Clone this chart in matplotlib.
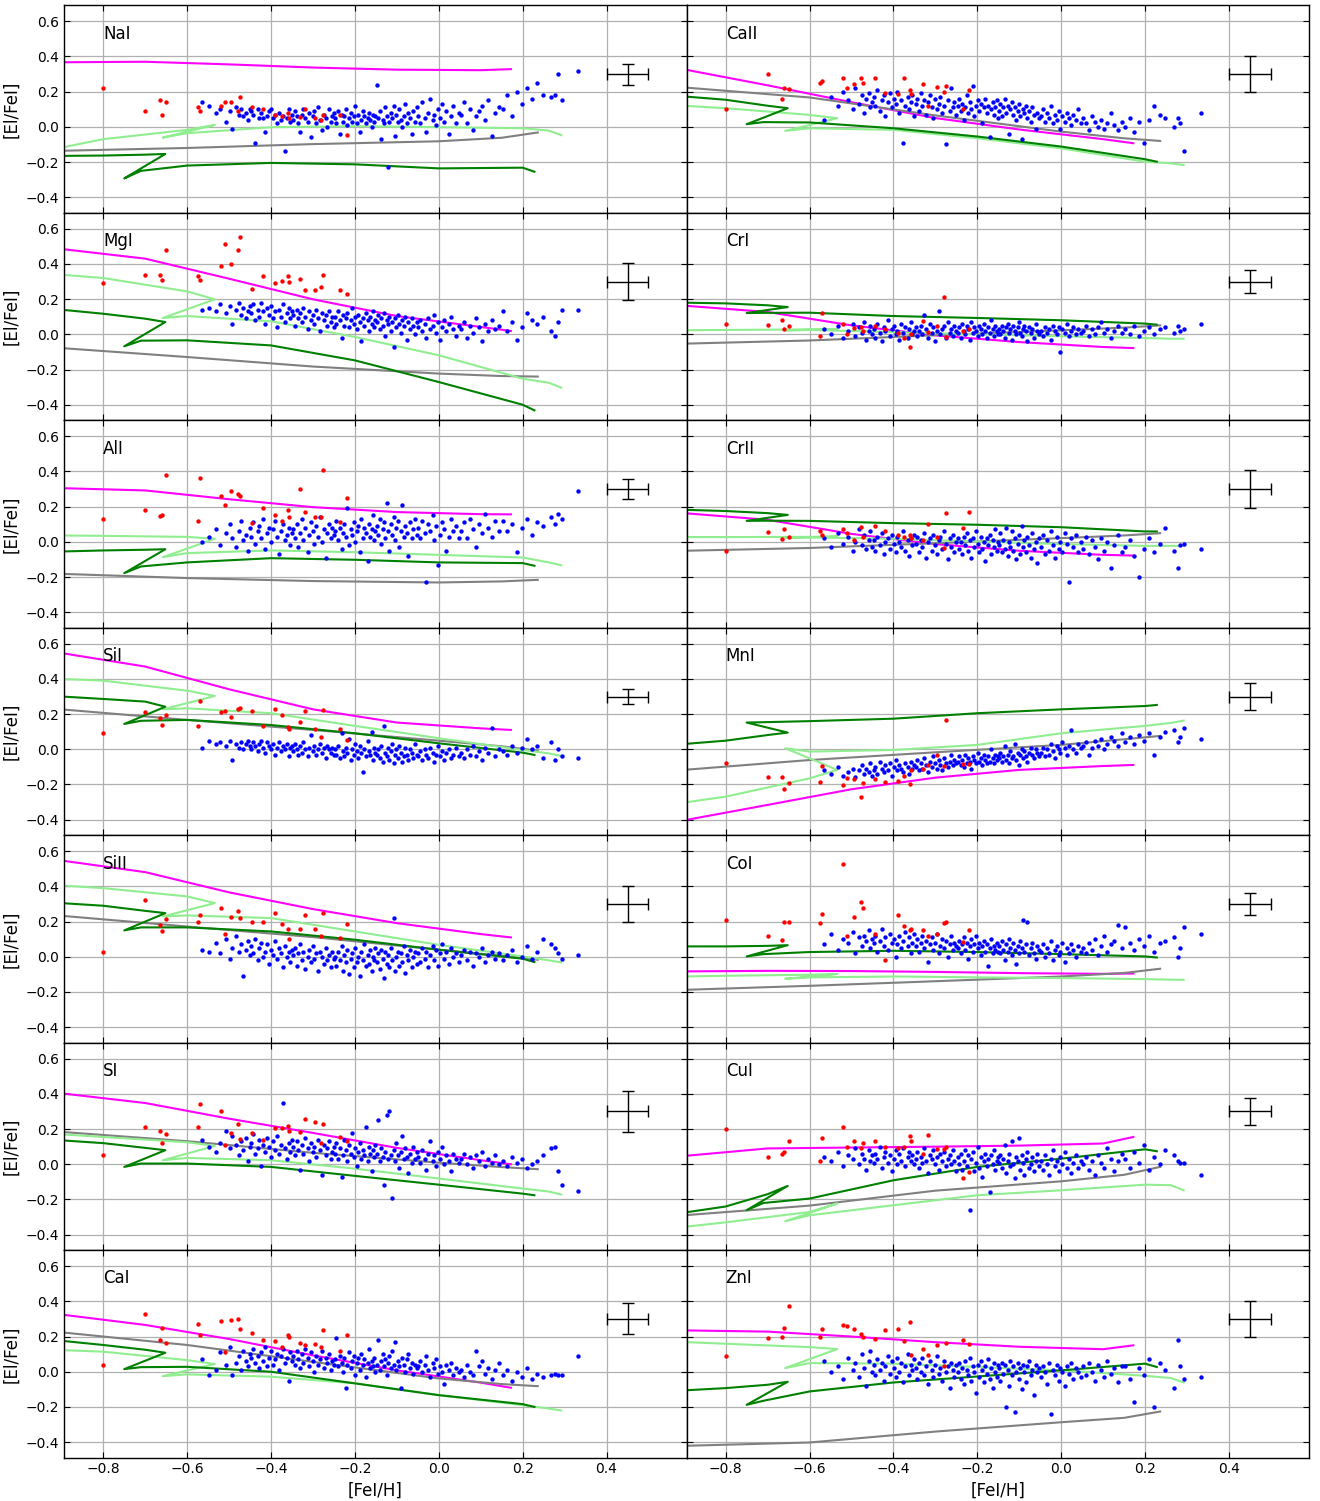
import numpy as np
import matplotlib
matplotlib.use('Agg')
import matplotlib.pyplot as plt

# ---------------------------------------------------------------
# Shared [Fe/H] of the stars (same stars in every panel)
# ---------------------------------------------------------------
BLUE_FEH = [
    -0.565, -0.548, -0.532, -0.521, -0.508, -0.497, -0.492, -0.483, -0.476, -0.471, -0.466, -0.459, -0.455, -0.451,
    -0.447, -0.443, -0.438, -0.432, -0.428, -0.423, -0.419, -0.414, -0.409, -0.404, -0.399, -0.395, -0.391, -0.386,
    -0.381, -0.377, -0.372, -0.366, -0.362, -0.358, -0.355, -0.351,
    -0.347, -0.343, -0.338, -0.335, -0.331, -0.326, -0.323, -0.318, -0.313, -0.309, -0.305, -0.301, -0.297, -0.292,
    -0.288, -0.283, -0.279, -0.274, -0.270, -0.266, -0.262, -0.258, -0.255, -0.251,
    -0.247, -0.244, -0.240, -0.236, -0.232, -0.229, -0.225, -0.221, -0.218, -0.214, -0.210, -0.207, -0.203, -0.199,
    -0.196, -0.192, -0.188, -0.185, -0.181, -0.178, -0.174, -0.170, -0.167, -0.163, -0.160, -0.157, -0.154, -0.151,
    -0.148, -0.145, -0.141, -0.138, -0.134, -0.131, -0.128, -0.124, -0.121, -0.118, -0.114, -0.111, -0.108, -0.104,
    -0.101, -0.098, -0.094, -0.091, -0.088, -0.084, -0.081, -0.077, -0.073, -0.069, -0.065, -0.061, -0.057, -0.053,
    -0.049, -0.044, -0.039, -0.034, -0.030, -0.025, -0.020, -0.015, -0.011, -0.006, -0.002, 0.003, 0.008, 0.013,
    0.018, 0.024, 0.029, 0.035, 0.041, 0.047,
    0.053, 0.060, 0.067, 0.074, 0.081, 0.088, 0.095, 0.103, 0.110, 0.118, 0.126, 0.135, 0.144,
    0.153, 0.163, 0.174, 0.186, 0.198, 0.210, 0.222, 0.235,
    0.248, 0.268, 0.278, 0.284, 0.294, 0.333,
]
RED_FEH = [-0.80, -0.70, -0.665, -0.66, -0.65, -0.575, -0.57, -0.52, -0.51, -0.495, -0.478, -0.473, -0.445,
           -0.42, -0.39, -0.375, -0.36, -0.357, -0.33, -0.318, -0.295, -0.28, -0.275, -0.235, -0.22]

# x knots of the model curves
MAG_X = [-0.9, -0.7, -0.5, -0.3, -0.1, 0.1, 0.172]
GRAY_X = [-0.9, -0.6, -0.3, 0.0, 0.15, 0.236]
DG_X = [-0.9, -0.8, -0.7, -0.652, -0.75, -0.71, -0.6, -0.4, -0.2, 0.0, 0.2, 0.228]
LG_X = [-0.9, -0.8, -0.6, -0.534, -0.658, -0.6, -0.4, -0.2, 0.0, 0.2, 0.262, 0.292]

LEFT_NAMES = ['NaI', 'MgI', 'AlI', 'SiI', 'SiII', 'SI', 'CaI']
RIGHT_NAMES = ['CaII', 'CrI', 'CrII', 'MnI', 'CoI', 'CuI', 'ZnI']

# ---------------- NaI ----------------
nai_blue = [0.14, 0.12, 0.08, 0.10, 0.03, 0.09, -0.01, 0.11, 0.07, 0.10, 0.06, 0.08, 0.04, 0.10,
            0.09, 0.07, -0.09, 0.10, 0.05, 0.08, 0.05, -0.03, 0.06, 0.09, 0.10, 0.05, 0.07, 0.02, 0.08, 0.04, 0.06, -0.14, 0.05, 0.10, 0.03, 0.07,
            0.04, 0.09, 0.06, 0.02, -0.03, 0.07, 0.10, 0.05, 0.03, 0.08, -0.06, 0.06, 0.09, 0.02, 0.11, 0.04, -0.02, 0.07, 0.05, 0.00, 0.10, 0.03, 0.06, 0.08,
            0.05, 0.02, 0.09, -0.04, 0.07, 0.03, 0.06, 0.10, 0.01, 0.05, 0.08, 0.03, 0.06, 0.12, 0.02, 0.07, -0.03, 0.04, 0.09, 0.06, 0.02, 0.05, 0.08, 0.04, 0.00, 0.07, 0.03, 0.06,
            0.24, 0.05, 0.09, -0.07, 0.04, 0.02, 0.11, 0.06, -0.23, 0.03, 0.08, 0.05, 0.12, -0.05, 0.07, 0.03, 0.10, 0.04, 0.00, 0.06, 0.13, 0.02, 0.08, 0.05, -0.04, 0.09, 0.03, 0.11,
            0.06, 0.02, 0.14, 0.05, -0.03, 0.08, 0.16, 0.04, 0.07, 0.01, 0.10, 0.05, 0.13, 0.03, 0.09, -0.04, 0.06, 0.12, 0.02, 0.08,
            0.07, 0.14, 0.02, 0.10, -0.02, 0.06, 0.09, 0.12, 0.04, 0.15, -0.05, 0.08, 0.11,
            0.10, 0.18, 0.06, 0.20, 0.13, 0.22, 0.16, 0.25,
            0.18, 0.17, 0.18, 0.30, 0.15, 0.32]
nai_red = [0.22, 0.09, 0.15, 0.07, 0.14, 0.11, 0.09, 0.12, 0.14, 0.14, 0.09, 0.17, 0.11, 0.10, 0.07, 0.06, 0.08,
           0.05, 0.055, 0.10, 0.05, 0.04, 0.07, 0.07, -0.045]
nai_mag = [0.367, 0.370, 0.355, 0.337, 0.325, 0.322, 0.328]
nai_gray = [-0.136, -0.120, -0.098, -0.082, -0.062, -0.032]
nai_dg = [-0.165, -0.163, -0.158, -0.154, -0.293, -0.250, -0.220, -0.205, -0.213, -0.236, -0.232, -0.255]
nai_lg = [-0.118, -0.070, -0.017, 0.011, -0.061, -0.036, -0.002, 0.004, -0.002, -0.008, -0.021, -0.047]

# ---------------- CaII ----------------
caii_blue = [0.04, 0.17, 0.12, 0.20, 0.15, 0.10, 0.22, 0.13, 0.18, 0.08, 0.16, 0.19, 0.11, 0.14,
             0.17, 0.12, 0.21, 0.09, 0.15, 0.18, 0.06, 0.14, 0.19, 0.11, 0.16, 0.13, 0.20, 0.08, 0.15, -0.09, 0.12, 0.17, 0.10, 0.14, 0.18, 0.06,
             0.13, 0.16, 0.09, 0.19, 0.12, 0.15, 0.07, 0.14, 0.18, 0.11, 0.05, 0.16, 0.10, 0.13, 0.17, 0.08, 0.12, -0.10, 0.15, 0.09, 0.22, 0.11, 0.14, 0.07,
             0.12, 0.16, 0.09, 0.13, 0.04, 0.11, 0.18, 0.08, 0.14, 0.10, 0.23, 0.06, 0.12, 0.15, 0.09, 0.13, 0.02, 0.11, 0.16, 0.08, 0.12, -0.06, 0.10, 0.14, 0.07, 0.11, 0.15, 0.05,
             0.09, 0.13, 0.06, 0.11, 0.16, 0.08, 0.12, -0.04, 0.10, 0.14, 0.07, 0.11, 0.04, 0.09, 0.13, 0.06, -0.07, 0.10, 0.08, 0.12, 0.05, 0.09, 0.03, 0.11, 0.07, -0.01, 0.08, 0.05,
             0.06, 0.10, 0.03, 0.08, 0.05, 0.12, 0.02, 0.07, 0.04, 0.09, -0.01, 0.06, 0.03, 0.08, 0.05, 0.01, 0.07, 0.04, 0.10, 0.02,
             0.05, 0.02, -0.02, 0.06, 0.03, 0.00, 0.04, -0.01, 0.02, 0.08, 0.01, -0.02, 0.03,
             0.00, 0.05, -0.03, 0.03, -0.09, 0.04, 0.12, 0.07,
             0.05, 0.00, 0.05, 0.02, -0.14, 0.08]
caii_red = [0.10, 0.30, 0.16, 0.22, 0.215, 0.25, 0.26, 0.28, 0.22, 0.245, 0.275, 0.25, 0.28, 0.19, 0.185, 0.28, 0.21,
            0.185, 0.245, 0.12, 0.225, 0.20, 0.23, 0.10, 0.21]
caii_mag = [0.327, 0.236, 0.140, 0.050, -0.015, -0.070, -0.093]
caii_gray = [0.224, 0.167, 0.065, -0.027, -0.065, -0.080]
caii_dg = [0.173, 0.154, 0.120, 0.106, 0.015, 0.027, 0.025, -0.008, -0.055, -0.112, -0.184, -0.198]
caii_lg = [0.120, 0.106, 0.068, 0.049, -0.023, -0.008, -0.017, -0.065, -0.122, -0.198, -0.207, -0.217]

# ---------------- MgI ----------------
mgi_blue = [0.14, 0.15, 0.13, 0.17, 0.12, 0.16, 0.06, 0.14, 0.18, 0.11, 0.15, 0.09, 0.13, 0.16,
            0.12, 0.17, 0.08, 0.14, 0.10, 0.18, 0.13, 0.06, 0.15, 0.11, 0.16, 0.09, 0.13, 0.04, 0.14, 0.10, 0.17, 0.07, 0.12, 0.15, 0.09, 0.13,
            0.11, 0.05, 0.14, 0.09, 0.12, 0.07, 0.15, 0.10, 0.03, 0.13, 0.08, 0.11, 0.06, 0.14, 0.09, 0.02, 0.12, 0.08, 0.11, 0.05, 0.13, 0.07, 0.10, 0.04,
            0.10, 0.06, 0.13, 0.08, -0.02, 0.11, 0.05, 0.09, 0.12, 0.04, 0.08, 0.15, 0.06, 0.10, 0.03, 0.11, 0.07, -0.04, 0.09, 0.05, 0.12, 0.08, 0.02, 0.10, 0.06, 0.13, 0.04, 0.08,
            0.07, 0.11, 0.03, 0.09, 0.05, 0.12, -0.01, 0.08, 0.06, 0.10, 0.02, 0.07, -0.07, 0.09, 0.04, 0.11, 0.06, 0.01, 0.08, 0.05, 0.10, -0.03, 0.07, 0.03, 0.09, 0.05, 0.00, 0.07,
            0.04, 0.08, 0.02, 0.06, -0.02, 0.09, 0.03, 0.05, 0.11, 0.01, 0.07, -0.03, 0.04, 0.08, 0.02, 0.06, 0.10, 0.03, -0.01, 0.05,
            0.03, 0.07, -0.02, 0.05, 0.01, 0.09, 0.04, -0.04, 0.06, 0.02, 0.08, 0.03, 0.05,
            0.13, 0.02, 0.07, -0.03, 0.04, 0.12, 0.08, 0.06,
            0.10, 0.02, -0.01, 0.07, 0.14, 0.14]
mgi_red = [0.29, 0.34, 0.335, 0.31, 0.48, 0.33, 0.31, 0.39, 0.515, 0.40, 0.48, 0.555, 0.26, 0.33, 0.29, 0.305, 0.33,
           0.30, 0.315, 0.25, 0.25, 0.27, 0.34, 0.25, 0.23]
mgi_mag = [0.485, 0.430, 0.316, 0.199, 0.104, 0.042, 0.019]
mgi_gray = [-0.078, -0.129, -0.183, -0.223, -0.237, -0.240]
mgi_dg = [0.140, 0.117, 0.089, 0.070, -0.068, -0.036, -0.034, -0.063, -0.148, -0.271, -0.400, -0.432]
mgi_lg = [0.339, 0.320, 0.244, 0.199, 0.093, 0.104, 0.074, -0.015, -0.119, -0.252, -0.275, -0.303]

# ---------------- CrI ----------------
cri_blue = [0.03, 0.00, 0.05, -0.02, 0.02, 0.06, -0.01, 0.04, 0.01, 0.07, -0.03, 0.02, 0.05, 0.00,
            0.03, -0.02, 0.06, 0.01, -0.04, 0.04, 0.02, 0.08, -0.01, 0.03, 0.05, 0.00, 0.02, -0.03, 0.06, 0.01, 0.04, -0.02, 0.03, 0.07, 0.00, 0.02,
            0.04, -0.01, 0.02, 0.05, 0.00, 0.11, 0.03, -0.02, 0.06, 0.01, 0.04, -0.04, 0.02, 0.13, 0.00, 0.03, 0.05, -0.02, 0.07, 0.01, 0.03, -0.01, 0.05, 0.02,
            0.01, 0.04, -0.02, 0.06, 0.02, 0.00, 0.05, 0.03, -0.03, 0.07, 0.01, 0.04, 0.02, -0.01, 0.05, 0.03, 0.00, 0.06, 0.02, -0.02, 0.04, 0.01, 0.08, 0.03, -0.01, 0.05, 0.02, 0.00,
            0.03, 0.00, 0.05, 0.02, -0.02, 0.04, 0.06, 0.01, 0.03, -0.03, 0.05, 0.02, 0.00, 0.04, 0.07, 0.01, -0.01, 0.03, 0.05, 0.02, -0.04, 0.04, 0.01, 0.03, -0.02, 0.06, 0.02, 0.00,
            0.02, -0.01, 0.04, 0.01, 0.03, -0.03, 0.05, 0.02, 0.00, 0.04, -0.10, 0.03, 0.01, 0.06, -0.01, 0.02, 0.04, 0.00, 0.03, 0.01,
            0.02, 0.05, -0.01, 0.03, 0.00, 0.04, 0.07, 0.01, 0.03, -0.02, 0.02, 0.05, 0.01,
            0.03, 0.00, 0.05, -0.01, 0.02, 0.04, 0.00, 0.03,
            0.04, 0.01, 0.05, 0.02, 0.03, 0.06]
cri_red = [0.06, 0.055, 0.08, 0.03, 0.05, -0.01, 0.12, 0.06, 0.00, 0.035, 0.04, 0.02, 0.05, 0.03, 0.01, -0.02, -0.07,
           0.00, 0.075, 0.015, 0.045, 0.21, -0.015, 0.02, 0.03]
cri_mag = [0.163, 0.127, 0.051, -0.006, -0.044, -0.072, -0.078]
cri_gray = [-0.053, -0.035, -0.005, 0.023, 0.038, 0.051]
cri_dg = [0.180, 0.176, 0.165, 0.155, 0.121, 0.122, 0.123, 0.104, 0.093, 0.080, 0.061, 0.055]
cri_lg = [0.023, 0.025, 0.028, 0.028, 0.023, 0.025, 0.013, 0.000, -0.011, -0.021, -0.025, -0.025]

# ---------------- AlI ----------------
ali_blue = [0.00, 0.03, 0.07, -0.02, 0.05, 0.10, 0.02, -0.03, 0.06, 0.12, 0.01, 0.04, -0.05, 0.08,
            0.03, 0.11, -0.01, 0.06, 0.09, 0.02, 0.13, -0.04, 0.05, 0.08, 0.00, 0.07, 0.12, 0.03, -0.07, 0.06, 0.10, 0.01, 0.04, 0.08, -0.02, 0.05,
            0.07, 0.02, 0.10, -0.03, 0.05, 0.13, 0.01, 0.08, -0.06, 0.04, 0.11, 0.06, -0.01, 0.09, 0.03, 0.14, 0.00, 0.07, -0.09, 0.05, 0.10, 0.02, 0.08, 0.04,
            0.06, 0.12, 0.01, 0.08, -0.04, 0.05, 0.10, 0.03, 0.19, -0.02, 0.07, 0.04, 0.11, 0.00, 0.06, 0.09, -0.06, 0.13, 0.02, 0.08, 0.05, -0.11, 0.10, 0.03, 0.07, 0.15, 0.01, 0.06,
            0.09, 0.04, 0.13, -0.01, 0.07, 0.11, 0.02, 0.22, 0.06, -0.05, 0.10, 0.04, 0.14, 0.01, 0.08, 0.12, -0.03, 0.06, 0.21, 0.03, 0.09, 0.05, -0.08, 0.11, 0.02, 0.07, 0.13, 0.04,
            0.08, 0.02, 0.12, 0.05, -0.23, 0.10, 0.06, 0.15, 0.01, 0.09, -0.13, 0.04, 0.11, 0.07, -0.05, 0.03, 0.13, 0.06, 0.09, 0.02,
            0.06, 0.11, 0.02, 0.13, 0.07, -0.03, 0.10, 0.05, 0.16, 0.08, 0.03, 0.12, 0.06,
            0.12, 0.06, 0.10, -0.06, 0.08, 0.13, 0.04, 0.11,
            0.09, 0.14, 0.10, 0.16, 0.13, 0.29]
ali_red = [0.13, 0.18, 0.145, 0.155, 0.38, 0.12, 0.36, 0.26, 0.21, 0.29, 0.27, 0.26, 0.105, 0.19, 0.15, 0.12, 0.18,
           0.14, 0.30, 0.17, 0.14, 0.14, 0.41, 0.115, 0.25]
ali_mag = [0.305, 0.292, 0.242, 0.197, 0.169, 0.157, 0.156]
ali_gray = [-0.182, -0.206, -0.223, -0.231, -0.225, -0.216]
ali_dg = [-0.055, -0.049, -0.045, -0.042, -0.178, -0.140, -0.117, -0.093, -0.102, -0.117, -0.121, -0.136]
ali_lg = [0.036, 0.034, 0.028, 0.017, -0.087, -0.064, -0.049, -0.059, -0.074, -0.089, -0.117, -0.133]

# ---------------- CrII ----------------
crii_blue = [0.02, -0.03, 0.05, -0.01, 0.03, -0.05, 0.00, 0.07, -0.02, 0.04, -0.04, 0.01, 0.06, -0.03,
             0.01, -0.05, 0.03, -0.02, 0.05, -0.07, 0.00, 0.02, -0.04, 0.04, -0.01, -0.06, 0.03, 0.00, -0.03, 0.06, -0.05, 0.01, -0.08, 0.02, -0.02, 0.04,
             -0.01, 0.03, -0.06, 0.01, -0.03, 0.05, -0.09, 0.00, 0.02, -0.05, 0.04, -0.02, -0.07, 0.01, 0.03, -0.04, 0.06, -0.01, -0.10, 0.02, -0.03, 0.04, -0.06, 0.00,
             0.02, -0.04, 0.00, -0.07, 0.03, -0.02, 0.05, -0.05, 0.01, -0.09, 0.02, -0.03, 0.06, -0.01, -0.06, 0.03, -0.04, 0.00, -0.11, 0.02, -0.02, 0.04, -0.07, 0.01, -0.03, 0.07, -0.05, 0.00,
             -0.02, 0.05, -0.06, 0.01, -0.04, 0.08, -0.08, 0.00, -0.03, 0.06, -0.05, 0.02, -0.10, -0.01, 0.04, -0.07, 0.09, -0.03, 0.01, -0.06, 0.03, -0.02, -0.09, 0.05, -0.04, 0.00, -0.12, 0.02,
             -0.03, 0.04, -0.07, 0.01, -0.05, 0.06, -0.02, -0.09, 0.03, -0.04, 0.00, -0.06, 0.05, -0.01, -0.23, 0.02, -0.03, 0.04, -0.06, 0.00,
             -0.04, 0.03, -0.07, 0.01, -0.03, -0.10, 0.02, -0.05, 0.00, -0.15, -0.02, 0.04, -0.06,
             -0.03, 0.01, -0.08, -0.20, -0.04, 0.02, -0.06, -0.01,
             0.08, -0.05, -0.15, -0.02, -0.01, -0.04]
crii_red = [-0.05, 0.055, 0.015, 0.07, 0.03, 0.06, 0.04, 0.07, 0.05, 0.01, 0.085, 0.03, 0.09, 0.06, 0.04, 0.03, 0.04,
            0.02, 0.01, 0.10, 0.03, -0.035, 0.165, 0.08, 0.17]
crii_mag = [0.163, 0.125, 0.045, -0.013, -0.051, -0.074, -0.078]
crii_gray = [-0.051, -0.035, -0.008, 0.021, 0.036, 0.049]
crii_dg = [0.182, 0.175, 0.163, 0.153, 0.119, 0.120, 0.119, 0.106, 0.097, 0.083, 0.059, 0.059]
crii_lg = [0.027, 0.027, 0.028, 0.030, 0.023, 0.025, 0.017, 0.002, -0.013, -0.023, -0.023, -0.023]

# ---------------- SiI ----------------
sii_blue = [0.01, 0.05, 0.03, 0.04, 0.02, 0.05, -0.06, 0.03, 0.01, 0.04, 0.00, 0.03, 0.05, 0.02,
            0.00, 0.04, 0.02, -0.01, 0.03, 0.05, 0.01, -0.02, 0.04, 0.02, 0.00, 0.03, -0.03, 0.01, 0.04, -0.01, 0.02, 0.00, 0.03, -0.04, 0.01, 0.02,
            -0.01, 0.03, 0.00, -0.03, 0.02, -0.02, 0.04, 0.00, -0.04, 0.01, 0.08, -0.01, 0.02, -0.03, 0.00, 0.03, -0.02, 0.01, -0.05, 0.02, 0.00, -0.02, 0.01, -0.03,
            0.00, -0.03, 0.02, -0.05, 0.09, -0.01, -0.04, 0.01, -0.02, 0.06, -0.06, 0.00, -0.03, 0.03, -0.01, -0.05, 0.02, -0.02, -0.13, 0.00, -0.04, 0.05, -0.01, -0.03, 0.10, -0.06, 0.01, -0.02,
            -0.03, 0.00, -0.05, 0.02, -0.07, 0.13, -0.02, -0.04, 0.01, -0.06, -0.01, 0.03, -0.08, -0.03, 0.00, -0.05, 0.02, -0.02, -0.07, -0.04, 0.01, -0.03, -0.06, 0.00, -0.02, -0.05, 0.03, -0.03,
            -0.04, -0.01, -0.06, 0.00, -0.03, -0.05, 0.01, -0.02, -0.07, -0.03, 0.02, -0.04, -0.01, -0.06, -0.02, 0.00, -0.05, -0.03, 0.01, -0.04,
            -0.02, -0.05, 0.00, -0.03, 0.02, -0.04, -0.01, -0.06, 0.01, -0.02, 0.12, -0.04, 0.00,
            -0.01, -0.03, 0.02, -0.02, 0.01, 0.06, 0.00, 0.02,
            -0.05, 0.04, -0.06, 0.00, -0.04, -0.05]
sii_red = [0.09, 0.21, 0.18, 0.14, 0.195, 0.13, 0.275, 0.21, 0.22, 0.185, 0.23, 0.235, 0.22, 0.135, 0.23, 0.195, 0.125,
           0.115, 0.155, 0.22, 0.115, 0.07, 0.225, 0.115, 0.055]
sii_mag = [0.547, 0.470, 0.341, 0.227, 0.152, 0.119, 0.110]
sii_gray = [0.227, 0.167, 0.110, 0.049, 0.017, -0.008]
sii_dg = [0.300, 0.286, 0.271, 0.242, 0.144, 0.162, 0.167, 0.138, 0.091, 0.034, -0.019, -0.032]
sii_lg = [0.400, 0.390, 0.333, 0.303, 0.227, 0.233, 0.205, 0.133, 0.063, -0.004, -0.023, -0.038]

# ---------------- MnI ----------------
mni_blue = [-0.12, -0.14, -0.10, -0.15, -0.13, -0.11, -0.16, -0.12, -0.09, -0.14, -0.11, -0.13, -0.08, -0.15,
            -0.12, -0.10, -0.14, -0.07, -0.11, -0.13, -0.09, -0.12, -0.08, -0.15, -0.10, -0.06, -0.12, -0.09, -0.11, -0.13, -0.08, -0.10, -0.14, -0.07, -0.11, -0.09,
            -0.10, -0.06, -0.12, -0.08, -0.11, -0.05, -0.09, -0.13, -0.07, -0.10, -0.04, -0.08, -0.11, -0.06, -0.09, -0.12, -0.05, -0.08, -0.10, -0.07, -0.03, -0.09, -0.06, -0.08,
            -0.07, -0.04, -0.09, -0.06, -0.10, -0.03, -0.08, -0.05, -0.07, -0.11, -0.04, -0.06, -0.08, -0.02, -0.07, -0.05, -0.09, -0.03, -0.06, -0.08, -0.04, -0.07, 0.00, -0.05, -0.08, -0.03, -0.06, -0.04,
            -0.05, -0.02, -0.07, -0.04, 0.02, -0.06, -0.03, -0.08, -0.01, -0.05, -0.04, 0.03, -0.06, -0.02, -0.09, -0.03, 0.00, -0.05, -0.01, -0.04, -0.07, -0.02, 0.01, -0.03, -0.05, 0.00, -0.02, -0.04,
            -0.02, 0.01, -0.04, 0.00, -0.03, 0.03, -0.01, -0.05, 0.02, 0.00, -0.02, 0.04, 0.01, -0.03, 0.02, 0.11, 0.00, -0.02, 0.03, 0.01,
            0.02, 0.04, -0.03, 0.01, 0.05, 0.02, 0.06, 0.00, 0.03, 0.07, 0.05, 0.02, 0.09,
            0.04, 0.07, 0.03, 0.08, 0.05, 0.09, -0.03, 0.07,
            0.10, 0.11, 0.04, 0.07, 0.12, 0.06]
mni_red = [-0.08, -0.155, -0.155, -0.225, -0.19, -0.185, -0.095, -0.205, -0.165, -0.17, -0.27, -0.19, -0.17, -0.185,
           -0.18, -0.15, -0.195, -0.115, -0.11, -0.09, -0.035, -0.095, 0.165, -0.085, -0.085]
mni_mag = [-0.404, -0.316, -0.227, -0.161, -0.117, -0.095, -0.089]
mni_gray = [-0.117, -0.061, -0.017, 0.025, 0.057, 0.076]
mni_dg = [0.030, 0.049, 0.081, 0.095, 0.152, 0.154, 0.160, 0.174, 0.205, 0.227, 0.246, 0.252]
mni_lg = [-0.303, -0.269, -0.165, -0.117, 0.006, -0.013, -0.004, 0.025, 0.091, 0.133, 0.150, 0.163]

# ---------------- SiII ----------------
siii_blue = [0.04, 0.03, 0.08, 0.02, 0.10, -0.01, 0.05, 0.12, 0.03, 0.07, -0.11, 0.04, 0.09, 0.01,
             0.06, 0.02, 0.10, -0.02, 0.05, 0.08, 0.00, 0.03, 0.07, -0.04, 0.04, 0.01, 0.09, -0.01, 0.05, 0.02, -0.06, 0.06, 0.00, 0.03, -0.03, 0.04,
             0.01, 0.05, -0.05, 0.02, 0.07, -0.02, 0.03, -0.07, 0.00, 0.04, -0.03, 0.06, -0.01, 0.02, -0.08, 0.03, 0.00, -0.04, 0.05, -0.02, 0.01, -0.06, 0.03, -0.01,
             0.00, -0.05, 0.03, -0.02, 0.06, -0.08, 0.01, -0.03, 0.04, -0.10, -0.01, 0.02, -0.06, 0.05, -0.03, 0.00, -0.11, 0.03, -0.02, 0.07, -0.05, 0.01, -0.04, 0.04, -0.08, 0.00, -0.02, 0.05,
             -0.03, 0.02, -0.07, 0.04, -0.01, -0.12, 0.03, -0.04, 0.01, -0.06, 0.05, -0.02, 0.22, -0.08, 0.00, 0.03, -0.05, 0.02, -0.03, 0.06, -0.09, 0.01, -0.02, 0.04, -0.06, 0.00, 0.03, -0.04,
             0.02, -0.03, 0.05, -0.01, 0.03, -0.06, 0.01, 0.06, -0.02, 0.04, -0.05, 0.02, 0.07, -0.01, 0.03, -0.04, 0.05, 0.00, 0.02, -0.03,
             0.01, 0.04, -0.02, 0.03, -0.05, 0.02, 0.00, 0.05, -0.03, 0.01, 0.03, -0.01, 0.02,
             -0.02, 0.01, 0.04, -0.03, 0.00, 0.06, -0.01, 0.03,
             0.10, 0.07, 0.05, 0.02, -0.01, 0.01]
siii_red = [0.025, 0.325, 0.18, 0.145, 0.215, 0.20, 0.24, 0.275, 0.13, 0.225, 0.26, 0.22, 0.20, 0.20, 0.25, 0.185, 0.16,
            0.10, 0.16, 0.235, 0.16, 0.12, 0.25, 0.105, 0.185]
siii_mag = [0.547, 0.481, 0.366, 0.271, 0.191, 0.129, 0.110]
siii_gray = [0.233, 0.172, 0.112, 0.040, 0.006, -0.017]
siii_dg = [0.305, 0.290, 0.261, 0.248, 0.150, 0.167, 0.167, 0.144, 0.097, 0.040, -0.011, -0.030]
siii_lg = [0.405, 0.390, 0.343, 0.305, 0.229, 0.235, 0.220, 0.144, 0.068, 0.002, -0.020, -0.032]

# ---------------- CoI ----------------
coi_blue = [0.07, 0.13, 0.04, 0.10, 0.08, 0.14, 0.02, 0.11, 0.06, 0.12, 0.09, 0.15, 0.05, 0.10,
            0.08, 0.12, 0.03, 0.09, 0.16, 0.06, 0.11, 0.04, 0.13, 0.08, 0.10, 0.00, 0.07, 0.12, 0.05, 0.09, 0.14, 0.06, 0.11, 0.02, 0.08, 0.13,
            0.06, 0.10, 0.03, 0.08, 0.12, 0.05, 0.09, -0.03, 0.07, 0.11, 0.04, 0.08, 0.13, 0.02, 0.06, 0.10, 0.05, 0.09, 0.00, 0.07, 0.12, 0.04, 0.08, 0.06,
            0.05, 0.09, 0.02, 0.07, 0.11, 0.04, 0.08, -0.01, 0.06, 0.10, 0.03, 0.07, 0.12, 0.05, 0.08, 0.01, 0.06, 0.09, 0.03, 0.07, -0.05, 0.05, 0.10, 0.02, 0.06, 0.04, 0.08, 0.03,
            0.06, 0.02, 0.09, 0.04, -0.02, 0.07, 0.03, 0.10, 0.05, 0.01, 0.08, 0.04, -0.04, 0.06, 0.02, 0.09, 0.05, 0.21, 0.03, 0.07, 0.20, 0.01, 0.05, 0.08, 0.02, -0.01, 0.06, 0.04,
            0.03, 0.07, 0.00, 0.05, 0.02, 0.09, -0.02, 0.04, 0.06, 0.01, 0.03, 0.08, -0.03, 0.05, 0.02, 0.07, 0.04, 0.00, 0.06, 0.03,
            0.05, 0.02, 0.08, 0.04, 0.10, 0.01, 0.06, 0.12, 0.03, 0.07, 0.09, 0.18, 0.05,
            0.17, 0.08, 0.04, 0.10, 0.06, 0.12, 0.03, 0.08,
            0.09, 0.11, 0.00, 0.05, 0.17, 0.13]
coi_red = [0.21, 0.12, 0.095, 0.20, 0.20, 0.19, 0.245, 0.53, 0.12, 0.225, 0.31, 0.275, 0.13, -0.02, 0.24, 0.175, 0.15,
           0.16, 0.155, 0.12, 0.13, 0.19, 0.20, 0.085, 0.15]
coi_mag = [-0.083, -0.080, -0.081, -0.086, -0.093, -0.097, -0.095]
coi_gray = [-0.188, -0.165, -0.139, -0.112, -0.092, -0.068]
coi_dg = [0.059, 0.059, 0.062, 0.066, 0.002, 0.015, 0.027, 0.034, 0.027, 0.015, 0.002, -0.004]
coi_lg = [-0.112, -0.108, -0.102, -0.098, -0.125, -0.117, -0.112, -0.117, -0.121, -0.127, -0.130, -0.131]

# ---------------- SI ----------------
si_blue = [0.14, 0.10, 0.07, 0.12, 0.19, 0.09, 0.16, 0.11, 0.05, 0.13, 0.08, 0.15, 0.02, 0.10,
           0.12, 0.17, 0.06, 0.09, 0.14, -0.01, 0.11, 0.07, 0.15, 0.10, 0.04, 0.13, 0.08, 0.16, 0.06, 0.11, 0.35, 0.09, 0.03, 0.12, 0.07, 0.14,
           0.10, 0.05, 0.13, 0.08, -0.03, 0.11, 0.06, 0.15, 0.09, 0.02, 0.12, 0.07, 0.10, 0.04, 0.14, 0.08, -0.06, 0.11, 0.05, 0.09, 0.13, 0.03, 0.07, 0.10,
           0.06, 0.12, 0.03, 0.09, -0.07, 0.05, 0.14, 0.08, 0.02, 0.11, 0.06, 0.18, 0.04, 0.09, -0.01, 0.07, 0.12, 0.03, 0.08, 0.05, 0.21, 0.02, 0.10, 0.06, -0.04, 0.08, 0.04, 0.11,
           0.06, 0.25, 0.02, 0.09, 0.04, -0.12, 0.07, 0.28, 0.03, 0.30, 0.05, -0.19, 0.08, 0.02, 0.12, 0.05, -0.02, 0.07, 0.16, 0.03, 0.09, 0.04, -0.05, 0.06, 0.01, 0.10, 0.03, 0.07,
           0.04, 0.01, 0.08, 0.03, -0.03, 0.06, 0.13, 0.02, 0.05, -0.01, 0.07, 0.03, 0.10, 0.00, 0.05, 0.02, -0.04, 0.06, 0.03, 0.01,
           0.03, 0.06, 0.00, 0.04, -0.02, 0.05, 0.02, 0.07, -0.01, 0.03, 0.01, 0.05, 0.00,
           0.02, -0.01, 0.04, 0.01, 0.03, -0.02, 0.00, 0.02,
           0.05, 0.09, 0.10, -0.04, -0.12, -0.15]
si_red = [0.055, 0.21, 0.19, 0.12, 0.17, 0.21, 0.34, 0.30, 0.11, 0.18, 0.23, 0.145, 0.18, 0.14, 0.205, 0.205, 0.215,
          0.19, 0.185, 0.26, 0.24, 0.12, 0.23, 0.155, 0.135]
si_mag = [0.403, 0.348, 0.259, 0.178, 0.093, 0.023, 0.000]
si_gray = [0.184, 0.131, 0.065, 0.009, -0.016, -0.028]
si_dg = [0.136, 0.120, 0.093, 0.080, -0.015, 0.004, 0.004, -0.015, -0.066, -0.116, -0.167, -0.176]
si_lg = [0.170, 0.155, 0.125, 0.104, 0.023, 0.036, 0.023, -0.025, -0.081, -0.138, -0.155, -0.172]

# ---------------- CuI ----------------
cui_blue = [0.04, 0.02, 0.07, -0.01, 0.05, 0.03, 0.09, 0.00, 0.06, 0.03, -0.03, 0.08, 0.02, 0.05,
            0.01, 0.06, 0.03, 0.10, -0.02, 0.04, 0.07, 0.01, 0.05, -0.04, 0.03, 0.08, 0.00, 0.06, 0.02, 0.09, -0.01, 0.04, 0.07, 0.02, 0.05, 0.00,
            0.03, 0.07, -0.02, 0.04, 0.01, 0.09, 0.02, -0.05, 0.05, 0.03, 0.08, 0.00, 0.04, -0.03, 0.06, 0.02, 0.07, -0.01, 0.03, 0.05, 0.00, 0.08, 0.02, -0.04,
            0.04, 0.00, 0.06, -0.03, 0.02, 0.08, -0.01, 0.05, -0.26, 0.03, 0.07, -0.04, 0.01, 0.10, -0.02, 0.04, -0.07, 0.02, 0.06, -0.01, 0.03, -0.16, 0.05, 0.00, 0.08, -0.03, 0.02, 0.04,
            0.01, 0.05, -0.02, 0.03, 0.11, -0.05, 0.02, 0.06, -0.01, 0.13, 0.00, -0.08, 0.04, 0.02, 0.15, -0.03, 0.05, 0.01, -0.06, 0.03, 0.07, -0.02, 0.00, 0.04, -0.04, 0.02, 0.06, -0.01,
            0.02, -0.03, 0.05, 0.00, -0.06, 0.03, 0.08, -0.01, 0.02, -0.04, 0.04, 0.00, 0.07, -0.02, 0.03, -0.05, 0.01, 0.05, -0.02, 0.02,
            0.00, 0.04, -0.03, 0.02, -0.06, 0.05, 0.01, -0.02, 0.09, 0.03, -0.04, 0.02, 0.06,
            0.03, -0.02, 0.07, 0.01, 0.11, -0.03, 0.04, 0.00,
            0.08, 0.05, 0.02, 0.01, 0.01, -0.06]
cui_red = [0.20, 0.04, 0.06, 0.07, 0.13, 0.02, 0.15, 0.21, 0.10, 0.13, 0.09, 0.12, 0.13, 0.10, 0.09, 0.10, 0.16,
           0.135, 0.06, 0.165, 0.085, 0.085, 0.10, -0.08, -0.045]
cui_mag = [0.047, 0.090, 0.095, 0.100, 0.106, 0.118, 0.155]
cui_gray = [-0.290, -0.235, -0.150, -0.097, -0.060, -0.015]
cui_dg = [-0.275, -0.240, -0.170, -0.123, -0.261, -0.220, -0.195, -0.091, -0.015, 0.032, 0.085, 0.074]
cui_lg = [-0.356, -0.330, -0.271, -0.223, -0.324, -0.290, -0.233, -0.176, -0.148, -0.116, -0.119, -0.148]

# ---------------- CaI ----------------
cai_blue = [0.07, -0.02, 0.01, 0.11, 0.04, 0.14, -0.02, 0.05, 0.09, 0.01, 0.12, 0.06, 0.03, 0.10,
            0.08, 0.13, 0.05, 0.09, 0.02, 0.11, 0.06, 0.14, 0.03, 0.08, 0.12, 0.04, 0.07, 0.10, 0.01, 0.09, 0.13, 0.05, 0.08, -0.05, 0.11, 0.06,
            0.09, 0.04, 0.12, 0.07, 0.02, 0.10, 0.05, 0.13, 0.08, 0.03, 0.11, 0.06, 0.00, 0.09, 0.04, 0.07, 0.12, 0.02, 0.08, 0.05, 0.10, 0.01, 0.06, 0.04,
            0.07, 0.19, 0.03, 0.09, 0.05, 0.00, 0.08, -0.09, 0.04, 0.11, 0.02, 0.06, 0.09, -0.02, 0.05, 0.08, 0.01, 0.10, 0.04, 0.07, -0.03, 0.05, 0.13, 0.02, 0.06, 0.03, 0.08, 0.00,
            0.04, 0.18, 0.01, 0.06, 0.10, 0.03, 0.07, -0.02, 0.05, 0.09, 0.02, 0.12, 0.04, 0.17, 0.01, 0.06, 0.03, -0.09, 0.08, 0.04, 0.00, 0.07, 0.10, 0.02, 0.05, -0.01, 0.04, 0.02,
            0.03, 0.06, 0.00, 0.04, 0.09, 0.01, -0.03, 0.05, 0.02, 0.07, -0.01, 0.03, 0.00, -0.07, 0.04, 0.01, 0.05, -0.02, 0.02, 0.00,
            0.01, -0.03, 0.04, 0.00, -0.02, 0.12, 0.03, 0.06, -0.01, 0.02, -0.04, 0.01, 0.05,
            -0.02, 0.01, -0.05, 0.00, -0.03, 0.02, -0.04, -0.01,
            -0.03, -0.02, -0.01, -0.02, -0.02, 0.09]
cai_red = [0.04, 0.33, 0.18, 0.25, 0.165, 0.27, 0.21, 0.29, 0.11, 0.295, 0.30, 0.245, 0.22, 0.18, 0.175, 0.14, 0.21,
           0.195, 0.165, 0.15, 0.16, 0.14, 0.235, 0.12, 0.21]
cai_mag = [0.325, 0.266, 0.186, 0.093, 0.008, -0.062, -0.091]
cai_gray = [0.224, 0.152, 0.056, -0.038, -0.070, -0.082]
cai_dg = [0.176, 0.152, 0.125, 0.108, 0.015, 0.026, 0.028, 0.000, -0.066, -0.133, -0.184, -0.200]
cai_lg = [0.123, 0.114, 0.066, 0.044, -0.025, -0.015, -0.028, -0.066, -0.133, -0.190, -0.209, -0.220]

# ---------------- ZnI ----------------
zni_blue = [0.06, 0.00, 0.03, -0.04, 0.08, 0.01, 0.05, -0.03, 0.10, 0.02, -0.08, 0.06, 0.12, 0.00,
            0.04, -0.02, 0.07, 0.01, 0.05, -0.05, 0.03, 0.09, -0.01, 0.06, 0.02, -0.03, 0.08, 0.00, 0.05, -0.06, 0.03, 0.10, -0.02, 0.04, 0.01, 0.07,
            0.02, -0.04, 0.05, 0.00, 0.08, -0.02, 0.03, -0.07, 0.06, 0.01, -0.03, 0.04, 0.09, -0.01, 0.02, -0.05, 0.06, 0.00, 0.03, -0.09, 0.05, 0.01, -0.03, 0.04,
            0.00, 0.05, -0.04, 0.02, -0.07, 0.06, 0.01, -0.02, 0.08, -0.05, 0.03, 0.00, -0.12, 0.04, -0.03, 0.06, 0.01, -0.06, 0.03, -0.01, 0.07, -0.04, 0.02, -0.09, 0.05, 0.00, -0.03, 0.04,
            0.02, -0.05, 0.05, -0.01, 0.04, -0.20, 0.01, -0.08, 0.06, -0.02, 0.03, -0.23, 0.00, 0.05, -0.04, 0.02, -0.10, 0.04, 0.00, -0.06, 0.03, 0.06, -0.02, 0.01, -0.13, 0.04, 0.00, 0.02,
            -0.03, 0.03, 0.00, -0.07, 0.05, -0.24, 0.01, -0.02, 0.04, -0.05, 0.02, 0.00, -0.08, 0.03, -0.01, 0.05, -0.04, 0.02, 0.00, -0.03,
            0.03, -0.02, 0.05, 0.00, -0.05, 0.04, 0.01, -0.03, 0.06, -0.01, 0.02, -0.06, 0.03,
            0.03, -0.04, -0.17, 0.02, -0.02, 0.07, -0.20, 0.05,
            0.01, -0.09, 0.18, 0.03, -0.04, -0.03]
zni_red = [0.09, 0.19, 0.195, 0.25, 0.375, 0.195, 0.245, 0.265, 0.26, 0.245, 0.215, 0.195, 0.185, 0.235, 0.245, 0.175,
           0.285, 0.095, 0.13, 0.095, 0.15, 0.03, 0.165, 0.18, 0.155]
zni_mag = [0.235, 0.228, 0.200, 0.168, 0.142, 0.128, 0.150]
zni_gray = [-0.421, -0.402, -0.340, -0.287, -0.262, -0.226]
zni_dg = [-0.106, -0.093, -0.074, -0.057, -0.188, -0.165, -0.112, -0.061, -0.027, 0.008, 0.046, 0.027]
zni_lg = [0.169, 0.159, 0.140, 0.129, 0.021, 0.049, 0.046, 0.027, 0.008, -0.023, -0.036, -0.061]

# typical error of each element (xerr is 0.05 everywhere)
ERR_Y = {'NaI': 0.06, 'CaII': 0.10, 'MgI': 0.105, 'CrI': 0.065, 'AlI': 0.057, 'CrII': 0.11, 'SiI': 0.045,
         'MnI': 0.078, 'SiII': 0.10, 'CoI': 0.065, 'SI': 0.115, 'CuI': 0.076, 'CaI': 0.088, 'ZnI': 0.10}

# table of panels built from the lists above
PANELS = {
    'NaI': (nai_blue, nai_red, nai_mag, nai_gray, nai_dg, nai_lg),
    'CaII': (caii_blue, caii_red, caii_mag, caii_gray, caii_dg, caii_lg),
    'MgI': (mgi_blue, mgi_red, mgi_mag, mgi_gray, mgi_dg, mgi_lg),
    'CrI': (cri_blue, cri_red, cri_mag, cri_gray, cri_dg, cri_lg),
    'AlI': (ali_blue, ali_red, ali_mag, ali_gray, ali_dg, ali_lg),
    'CrII': (crii_blue, crii_red, crii_mag, crii_gray, crii_dg, crii_lg),
    'SiI': (sii_blue, sii_red, sii_mag, sii_gray, sii_dg, sii_lg),
    'MnI': (mni_blue, mni_red, mni_mag, mni_gray, mni_dg, mni_lg),
    'SiII': (siii_blue, siii_red, siii_mag, siii_gray, siii_dg, siii_lg),
    'CoI': (coi_blue, coi_red, coi_mag, coi_gray, coi_dg, coi_lg),
    'SI': (si_blue, si_red, si_mag, si_gray, si_dg, si_lg),
    'CuI': (cui_blue, cui_red, cui_mag, cui_gray, cui_dg, cui_lg),
    'CaI': (cai_blue, cai_red, cai_mag, cai_gray, cai_dg, cai_lg),
    'ZnI': (zni_blue, zni_red, zni_mag, zni_gray, zni_dg, zni_lg),
}

# check list lengths
bad = [(k, len(v[0]), len(v[1])) for k, v in PANELS.items()
       if len(v[0]) != len(BLUE_FEH) or len(v[1]) != len(RED_FEH)]
if bad:
    raise SystemExit('length mismatch: %s (blue %d, red %d)' % (bad, len(BLUE_FEH), len(RED_FEH)))


def draw_panel(ax, name):
    blue, red, mag, gray, dg, lg = PANELS[name]
    # model curves
    ax.plot(MAG_X, mag, color='magenta', lw=1.5, zorder=2)
    ax.plot(GRAY_X, gray, color='gray', lw=1.5, zorder=2)
    ax.plot(LG_X, lg, color='lightgreen', lw=1.5, zorder=2)
    ax.plot(DG_X, dg, color='green', lw=1.5, zorder=2)
    # stars
    ax.scatter(BLUE_FEH, blue, s=10, color='blue', lw=0, zorder=3)
    ax.scatter(RED_FEH, red, s=10, color='red', lw=0, zorder=3)
    # typical error bar
    ax.errorbar(0.45, 0.3, xerr=0.05, yerr=ERR_Y[name], color='black', lw=1, capsize=4, zorder=3)
    ax.text(-0.8, 0.53, name, fontsize=12, va='center')


fig, axes = plt.subplots(7, 2, figsize=(13.2, 15.01), dpi=100, sharex=True, sharey=True)
fig.subplots_adjust(left=0.0487, right=0.9917, top=0.9965, bottom=0.0289, wspace=0, hspace=0)

for row in range(7):
    for col, names in enumerate([LEFT_NAMES, RIGHT_NAMES]):
        ax = axes[row, col]
        draw_panel(ax, names[row])
        ax.set_xlim(-0.893, 0.591)
        ax.set_ylim(-0.488, 0.691)
        ax.set_xticks([-0.8, -0.6, -0.4, -0.2, 0.0, 0.2, 0.4])
        ax.set_yticks([-0.4, -0.2, 0.0, 0.2, 0.4, 0.6])
        ax.grid(True, color='#b0b0b0', lw=0.9)
        ax.set_axisbelow(True)
        ax.tick_params(direction='in', top=True, right=True, labelsize=10, length=4)
        for sp in ax.spines.values():
            sp.set_linewidth(1.0)
        if col == 0:
            ax.set_ylabel('[El/FeI]', fontsize=12)
        if row == 6:
            ax.set_xlabel('[FeI/H]', fontsize=12)

fig.savefig('out.png', dpi=100)
